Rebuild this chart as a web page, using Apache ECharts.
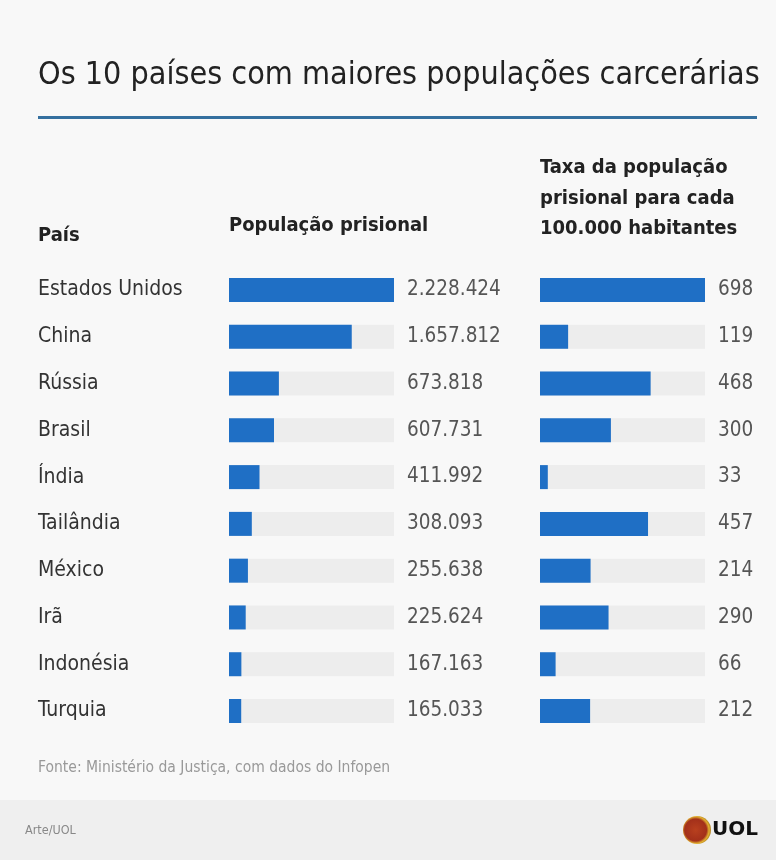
<!DOCTYPE html>
<html><head><meta charset="utf-8">
<script src="https://cdn.jsdelivr.net/npm/echarts@6/dist/echarts.min.js"></script>
<style>html,body{margin:0;padding:0;background:#f8f8f8}#c{width:776px;height:860px}</style>
</head><body><div id="c"></div>
<script>
const countries = ['Estados Unidos','China','Rússia','Brasil','Índia','Tailândia','México','Irã','Indonésia','Turquia'];
const population = [2228424,1657812,673818,607731,411992,308093,255638,225624,167163,165033];
const rate = [698,119,468,300,33,457,214,290,66,212];

const FONT = '"Liberation Sans Narrow","DejaVu Sans Condensed","Roboto",sans-serif';
const fmt = v => String(v).replace(/\B(?=(\d{3})+(?!\d))/g, '.');
const BLUE = '#1f6fc5';
const BG = '#ededed';
const TXT = '#333333';

const chart = echarts.init(document.getElementById('c'), null, {renderer:'canvas'});
const gTop = 266.6, gH = 467.8;
function grid(left){ return {left:left, top:gTop, width:165, height:gH}; }
function yCat(gi, show){
  return {type:'category', gridIndex:gi, data:countries, inverse:true,
    axisLine:{show:false}, axisTick:{show:false},
    axisLabel:{show:show, align:'left', margin:191, color:TXT, fontFamily:FONT, fontSize:21}};
}
function yVal(gi, arr){
  return {type:'category', gridIndex:gi, data:arr.map(fmt), inverse:true, position:'right',
    axisLine:{show:false}, axisTick:{show:false},
    axisLabel:{show:true, align:'left', margin:13, color:'#555', fontFamily:FONT, fontSize:20.5}};
}
chart.setOption({
  backgroundColor:'#f8f8f8',
  animation:false,
  grid:[grid(229), grid(540)],
  xAxis:[
    {type:'value', gridIndex:0, min:0, max:2228424, show:false},
    {type:'value', gridIndex:1, min:0, max:698, show:false}
  ],
  yAxis:[yCat(0,true), yVal(0,population), yCat(1,false), yVal(1,rate)],
  series:[
    {type:'bar', xAxisIndex:0, yAxisIndex:0, data:population, barWidth:24,
     showBackground:true, backgroundStyle:{color:BG}, itemStyle:{color:BLUE}},
    {type:'bar', xAxisIndex:1, yAxisIndex:2, data:rate, barWidth:24,
     showBackground:true, backgroundStyle:{color:BG}, itemStyle:{color:BLUE}}
  ],
  graphic:[
    {type:'text', x:38, y:76, style:{text:'Os 10 países com maiores populações carcerárias', fill:'#222', font:'32px '+FONT, verticalAlign:'middle'}},
    {type:'rect', shape:{x:38, y:116, width:719, height:3}, style:{fill:'#35709f'}},
    {type:'text', x:38, y:236, style:{text:'País', fill:'#222', font:'bold 20px '+FONT, verticalAlign:'middle'}},
    {type:'text', x:229, y:226, style:{text:'População prisional', fill:'#222', font:'bold 20px '+FONT, verticalAlign:'middle'}},
    {type:'text', x:540, y:168, style:{text:'Taxa da população', fill:'#222', font:'bold 20px '+FONT, verticalAlign:'middle'}},
    {type:'text', x:540, y:198.5, style:{text:'prisional para cada', fill:'#222', font:'bold 20px '+FONT, verticalAlign:'middle'}},
    {type:'text', x:540, y:229, style:{text:'100.000 habitantes', fill:'#222', font:'bold 20px '+FONT, verticalAlign:'middle'}},
    {type:'text', x:38, y:768, style:{text:'Fonte: Ministério da Justiça, com dados do Infopen', fill:'#999', font:'15.5px '+FONT, verticalAlign:'middle'}},
    {type:'rect', shape:{x:0, y:800, width:776, height:60}, style:{fill:'#efefef'}},
    {type:'text', x:25, y:831, style:{text:'Arte/UOL', fill:'#888', font:'12.5px '+FONT, verticalAlign:'middle'}},
    {type:'circle', shape:{cx:697, cy:830, r:14}, style:{fill:{type:'radial', x:0.45, y:0.5, r:0.6, colorStops:[{offset:0,color:'#b8401e'},{offset:0.65,color:'#a3301a'},{offset:0.8,color:'#e2b030'},{offset:1,color:'#8a5a12'}]}}},
    {type:'text', x:712, y:830, style:{text:'UOL', fill:'#111', font:'bold 20px "DejaVu Sans",sans-serif', verticalAlign:'middle'}}
  ]
});
</script></body></html>
